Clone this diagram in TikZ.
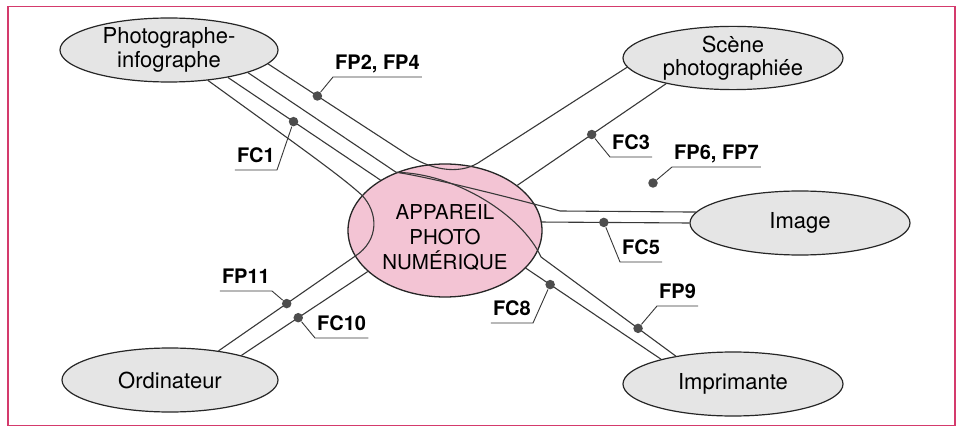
\documentclass[tikz,border=0pt]{standalone}
\usepackage{fontspec}
\setmainfont{TeX Gyre Heros}
\usetikzlibrary{shapes.geometric}
\definecolor{framered}{HTML}{D43A6C}
\definecolor{pinkfill}{HTML}{F3C4D4}
\definecolor{greyfill}{HTML}{E5E5E5}
\definecolor{wirecol}{HTML}{383838}
\definecolor{dotcol}{HTML}{4D4D4D}

\begin{document}
\begin{tikzpicture}[x=1pt,y=-1pt,
  actor/.style={ellipse, draw=black!85, line width=1.2pt, fill=greyfill,
    inner sep=0pt, align=center, font=\fontsize{22}{23.5}\selectfont},
  product/.style={ellipse, draw=black!85, line width=1.3pt, fill=pinkfill, inner sep=0pt},
  prodtext/.style={align=center, inner sep=0pt, font=\fontsize{20.5}{25}\selectfont},
  wire/.style={draw=wirecol, line width=1.1pt},
  leader/.style={draw=wirecol, line width=0.9pt},
  dotn/.style={circle, fill=dotcol, inner sep=0pt, minimum size=9.5pt},
  tag/.style={font=\bfseries\fontsize{20}{22}\selectfont, text depth=0pt,
    inner xsep=2pt, inner ysep=7.5pt},
]
\useasboundingbox (0,0) rectangle (963,430);
\fill[white] (0,0) rectangle (963,430);
\draw[framered, line width=1.8pt] (8,6.5) rectangle (955,425.5);

% the product and the surrounding elements
\node[product, minimum width=194pt, minimum height=133pt] (cam) at (445,230.5) {};
\node[prodtext] (camtxt) at (445,237.5) {APPAREIL\\PHOTO\\NUMÉRIQUE};
\node[actor, minimum width=218pt, minimum height=64pt] (pho) at (169,50) {Photographe-\\infographe};
\node[actor, minimum width=220pt, minimum height=62pt] (sce) at (733,58) {Scène\\photographiée};
\node[actor, minimum width=220pt, minimum height=64pt] (img) at (800,223) {Image};
\node[actor, minimum width=216pt, minimum height=64pt] (ord) at (170,380) {Ordinateur};
\node[actor, minimum width=220pt, minimum height=64pt] (imp) at (733,384) {Imprimante};

% functions crossing the product
\draw[wire] (pho.-8) -- node[dotn,pos=0.36] (d24) {} (405,153)
  .. controls (430,170) and (458,175) .. (478,163) -- (sce.-175);
\draw[wire] (pho.-38) .. controls (290,140) and (340,175) .. (cam.157)
  .. controls (378,212) and (380,240) .. (cam.-164)
  -- node[dotn,pos=0.5] (d11) {} (ord.31);
\draw[wire] (pho.-16) -- (cam.130);
\draw[wire] (cam.130) .. controls (425,176) and (520,200) .. (560,211) -- (img.174);
\draw[wire] (cam.130) .. controls (455,173) and (522,215) .. (541,257)
  -- node[dotn,pos=0.72] (d9) {} (imp.154);

% constraints linking one element to the product
\draw[wire] (pho.-25) -- node[dotn,pos=0.43] (d1) {} (cam.142);
\draw[wire] (sce.-159) -- node[dotn,pos=0.5] (d3) {} (cam.32);
\draw[wire] (cam.5) -- node[dotn,pos=0.42] (d5) {} (img.180);
\draw[wire] (cam.-25) -- node[dotn,pos=0.18] (d8) {} (imp.161);
\draw[wire] (ord.19) -- node[dotn,pos=0.45] (d10) {} (cam.-152);
\node[dotn] (d67) at (653,183) {};

% labels with their leaders
\node[tag, anchor=south west] (t24) at (333,77) {FP2, FP4};
\draw[leader] (d24) -- (t24.south west) -- (t24.south east);
\node[tag, anchor=south east] (t1) at (277,170) {FC1};
\draw[leader] (d1) -- (t1.south east) -- (t1.south west);
\node[tag, anchor=south west] (t3) at (610,157) {FC3};
\draw[leader] (d3) -- (t3.south west) -- (t3.south east);
\node[tag, anchor=south west] (t67) at (672,167) {FP6, FP7};
\draw[leader] (d67) -- (t67.south west) -- (t67.south east);
\node[tag, anchor=south west] (t5) at (620,262) {FC5};
\draw[leader] (d5) -- (t5.south west) -- (t5.south east);
\node[tag, anchor=south west] (t9) at (657,306) {FP9};
\draw[leader] (d9) -- (t9.south west) -- (t9.south east);
\node[tag, anchor=south east] (t8) at (533,323) {FC8};
\draw[leader] (d8) -- (t8.south east) -- (t8.south west);
\node[tag, anchor=south east] (t11) at (272,291) {FP11};
\draw[leader] (d11) -- (t11.south east) -- (t11.south west);
\node[tag, anchor=south west] (t10) at (315,338) {FC10};
\draw[leader] (d10) -- (t10.south west) -- (t10.south east);
\end{tikzpicture}
\end{document}
